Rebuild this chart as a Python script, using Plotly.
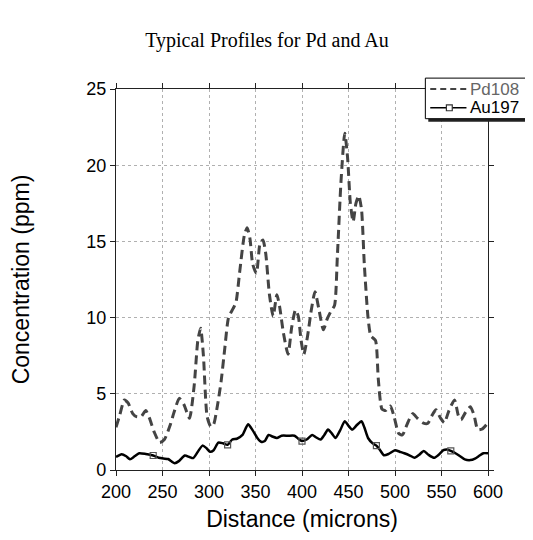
import plotly.graph_objects as go

# ---- data ----
pd_x = [200, 204, 209, 213, 218, 222, 227, 232, 236, 241, 247, 252, 258, 263, 268, 273, 279, 284, 288, 291,
        294, 298, 302, 305, 309, 313, 317, 321, 326, 329, 333, 338, 341, 344, 347, 351, 355, 358, 361, 365,
        369, 373, 376, 380, 385, 389, 393, 396, 399, 402, 406, 410, 414, 418, 423, 427, 431, 435, 438, 442,
        446, 449, 452, 455, 458, 461, 464, 467, 471, 474, 479, 482, 486, 490, 495, 499, 504, 508, 513, 519,
        524, 530, 535, 540, 544, 549, 553, 558, 564, 568, 571, 576, 581, 585, 589, 594, 600]
pd_y = [2.8, 3.6, 4.6, 4.4, 3.7, 3.5, 3.5, 3.9, 3.4, 2.5, 1.8, 2.0, 2.9, 3.9, 4.7, 4.3, 3.4, 5.5, 8.5, 9.3,
        7.5, 3.5, 2.85, 3.0, 4.2, 5.8, 8.0, 10.0, 10.6, 11.0, 13.0, 15.4, 15.9, 15.2, 13.5, 12.9, 14.9, 15.1, 14.2, 11.5,
        10.1, 11.5, 10.7, 9.0, 7.6, 9.4, 10.5, 10.1, 8.5, 7.6, 8.8, 10.5, 11.7, 10.6, 9.2, 9.9, 10.4, 10.8, 14.0, 19.0,
        22.1, 20.5, 17.5, 16.3, 17.5, 18.0, 17.1, 13.5, 10.0, 8.8, 8.5, 6.0, 4.0, 3.9, 4.2, 3.5, 2.4, 2.3, 3.0, 3.7,
        3.4, 3.1, 3.05, 3.6, 3.95, 3.4, 3.1, 3.9, 4.6, 3.6, 3.3, 3.8, 4.15, 3.6, 2.65, 2.7, 3.1]

au_x = [200, 206, 211, 215, 220, 225, 232, 240, 246, 251, 256, 260, 263, 268, 274, 279, 283, 288, 293, 297,
        301, 305, 310, 315, 320, 325, 330, 336, 342, 347, 352, 356, 360, 364, 368, 373, 378, 385, 392, 396,
        400, 405, 411, 415, 420, 424, 428, 432, 436, 441, 446, 450, 454, 459, 464, 467, 471, 476, 480, 484,
        488, 493, 500, 505, 510, 516, 521, 526, 531, 536, 542, 547, 552, 556, 560, 565, 570, 575, 581, 586,
        591, 595, 600]
au_y = [0.85, 1.04, 0.9, 0.7, 0.9, 1.1, 1.05, 0.95, 0.8, 0.75, 0.72, 0.55, 0.45, 0.6, 0.95, 0.85, 0.78, 1.2, 1.6, 1.45,
        1.2, 1.3, 1.8, 1.75, 1.65, 2.0, 2.05, 2.3, 3.0, 2.6, 2.1, 1.85, 1.9, 2.3, 2.2, 2.1, 2.25, 2.25, 2.25, 2.05,
        1.9, 2.0, 2.3, 2.15, 2.0, 2.3, 2.65, 2.4, 2.1, 2.6, 3.2, 2.9, 2.65, 2.95, 3.2, 2.8, 2.1, 1.75, 1.6, 1.3,
        0.97, 1.05, 1.3, 1.2, 1.1, 0.95, 0.8, 1.0, 1.25, 1.0, 0.8, 1.0, 1.3, 1.35, 1.25, 1.1, 0.9, 0.7, 0.65, 0.75,
        0.95, 1.1, 1.1]
au_marker_x = [240, 320, 400, 480, 560]

series_names = ["Pd108", "Au197"]
x_ticks = [200, 250, 300, 350, 400, 450, 500, 550, 600]
y_ticks = [0, 5, 10, 15, 20, 25]

title = "Typical Profiles for Pd and Au"
x_title = "Distance (microns)"
y_title = "Concentration (ppm)"

SANS = "Liberation Sans, Arial, Helvetica, sans-serif"
SERIF = "Liberation Serif, Times New Roman, serif"
PD_COLOR = "#444444"
AU_COLOR = "#000000"

fig = go.Figure()
fig.add_trace(go.Scatter(
    x=pd_x, y=pd_y, mode="lines", name=series_names[0], showlegend=False,
    line=dict(color=PD_COLOR, width=3, dash="9px,5px", shape="spline", smoothing=0.6),
))
fig.add_trace(go.Scatter(
    x=au_x, y=au_y, mode="lines", name=series_names[1], showlegend=False,
    line=dict(color=AU_COLOR, width=2.5, shape="spline", smoothing=0.6),
))
mk_y = [au_y[au_x.index(v)] for v in au_marker_x]
fig.add_trace(go.Scatter(
    x=au_marker_x, y=mk_y, mode="markers", name=series_names[1], showlegend=False,
    marker=dict(symbol="square-open", size=6, color="#555555", line=dict(width=1.2)),
))

OFF = 8                      # page body margin around the figure
W, H = 533 - OFF, 540 - OFF
L, R, T, B = 108 - OFF, 488 - OFF, 89 - OFF, 474 - OFF
pw, ph = R - L, B - T

def px_x(p):                 # p: page pixel -> paper fraction
    return (p - OFF - L) / pw

def px_y(p):
    return (B - (p - OFF)) / ph

# ---- hand-drawn compact legend box ----
lg_left, lg_right, lg_top, lg_bot = 424, 529, 78, 119
fig.add_shape(type="rect", xref="paper", yref="paper",
              x0=px_x(lg_left + 3), x1=px_x(lg_right + 3), y0=px_y(lg_bot + 3), y1=px_y(lg_top + 3),
              fillcolor="#222222", line=dict(width=0), layer="above")
fig.add_shape(type="rect", xref="paper", yref="paper",
              x0=px_x(lg_left), x1=px_x(lg_right), y0=px_y(lg_bot), y1=px_y(lg_top),
              fillcolor="white", line=dict(color="#000000", width=1), layer="above")
rows = [89, 108]
fig.add_shape(type="line", xref="paper", yref="paper",
              x0=px_x(429), x1=px_x(466), y0=px_y(rows[0]), y1=px_y(rows[0]),
              line=dict(color=PD_COLOR, width=2, dash="6px,4px"), layer="above")
fig.add_shape(type="line", xref="paper", yref="paper",
              x0=px_x(429), x1=px_x(466), y0=px_y(rows[1]), y1=px_y(rows[1]),
              line=dict(color=AU_COLOR, width=1.5), layer="above")
fig.add_shape(type="rect", xref="paper", yref="paper",
              x0=px_x(445.5), x1=px_x(451.5), y0=px_y(rows[1] + 3), y1=px_y(rows[1] - 3),
              fillcolor="white", line=dict(color="#333333", width=1.2), layer="above")
for name, row, col in zip(series_names, rows, ["#666666", "#000000"]):
    fig.add_annotation(text=name, xref="paper", yref="paper", x=px_x(468), y=px_y(row),
                       xanchor="left", yanchor="middle", showarrow=False,
                       font=dict(family=SANS, size=17, color=col))

axis_common = dict(
    showline=True, linecolor="#222222", linewidth=1.3, mirror="ticks",
    ticks="outside", ticklen=5, tickcolor="#222222", tickwidth=1,
    showgrid=True, gridcolor="#b0b0b0", griddash="3px,3px", gridwidth=1,
    zeroline=False, tickfont=dict(family=SANS, size=18, color="#000000"),
)

fig.update_layout(
    width=W, height=H,
    margin=dict(l=L, r=W - R, t=T, b=H - B),
    paper_bgcolor="white", plot_bgcolor="white",
    title=dict(text=title, x=(267 - OFF) / W, xanchor="center", y=1 - (40 - OFF) / H, yanchor="middle",
               font=dict(family=SERIF, size=20, color="#000000")),
    xaxis=dict(range=[200, 600], tickvals=x_ticks, ticktext=[str(v) for v in x_ticks],
               title=dict(text=x_title, font=dict(family=SANS, size=23, color="#000000"), standoff=10),
               **axis_common),
    yaxis=dict(range=[0, 25], tickvals=y_ticks, ticktext=[str(v) for v in y_ticks],
               title=dict(text=y_title, font=dict(family=SANS, size=23, color="#000000"), standoff=50),
               **axis_common),
    showlegend=False,
)

fig.write_html("out.html")
